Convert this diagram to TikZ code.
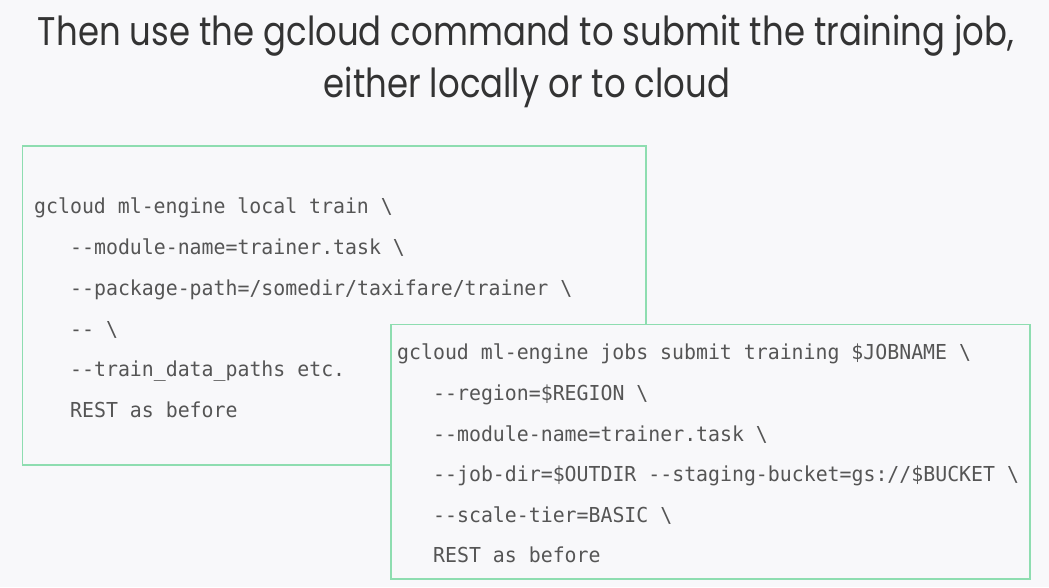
\documentclass[tikz,border=0pt]{standalone}
\usepackage{fontspec}
\usepackage{graphicx}
\newfontfamily\titlefont{Poppins}
\newfontfamily\codefont{DejaVu Sans Mono}
\definecolor{bgc}{HTML}{F8F8FA}
\definecolor{boxgreen}{HTML}{8EDDB0}
\definecolor{titlec}{HTML}{333333}
\definecolor{codec}{HTML}{555555}
\newlength\ttlw
\newcommand\cl[1]{\scalebox{0.964}[1]{#1}}
\begin{document}
\settowidth{\ttlw}{\titlefont\fontsize{40}{48}\selectfont Then use the gcloud command to submit the training job,}%
\pgfmathsetmacro\tsx{976/\ttlw}%
\begin{tikzpicture}[x=1pt,y=-1pt,
  codebox/.style={draw=boxgreen,line width=1.5pt,fill=bgc},
  codeline/.style={anchor=base west,inner sep=0pt,text=codec,font=\codefont\fontsize{20.6}{24}\selectfont},
  titleline/.style={anchor=base,inner sep=0pt,text=titlec,font=\titlefont\fontsize{40}{48}\selectfont}]
\useasboundingbox[fill=bgc] (0,0) rectangle (1049,587);
% title
\node[titleline] (t1) at (526,45) {\scalebox{\tsx}[1]{Then use the gcloud command to submit the training job,}};
\node[titleline] (t2) at (527,97) {\scalebox{\tsx}[1]{either locally or to cloud}};
% box 1
\draw[codebox] (22.5,146) rectangle (646,465);
\node[codeline] (a1) at (34,213) {\cl{gcloud ml-engine local train \textbackslash}};
\node[codeline] (a2) at (70,254) {\cl{--module-name=trainer.task \textbackslash}};
\node[codeline] (a3) at (70,295) {\cl{--package-path=/somedir/taxifare/trainer \textbackslash}};
\node[codeline] (a4) at (70,336) {\cl{-- \textbackslash}};
\node[codeline] (a5) at (70,376) {\cl{--train\_data\_paths etc.}};
\node[codeline] (a6) at (70,417) {\cl{REST as before}};
% box 2
\draw[codebox] (391,324.5) rectangle (1030,579);
\node[codeline] (b1) at (397,359) {\cl{gcloud ml-engine jobs submit training \$JOBNAME \textbackslash}};
\node[codeline] (b2) at (433,400) {\cl{--region=\$REGION \textbackslash}};
\node[codeline] (b3) at (433,441) {\cl{--module-name=trainer.task \textbackslash}};
\node[codeline] (b4) at (433,481) {\cl{--job-dir=\$OUTDIR --staging-bucket=gs://\$BUCKET \textbackslash}};
\node[codeline] (b5) at (433,522) {\cl{--scale-tier=BASIC \textbackslash}};
\node[codeline] (b6) at (433,562) {\cl{REST as before}};
\end{tikzpicture}
\end{document}
